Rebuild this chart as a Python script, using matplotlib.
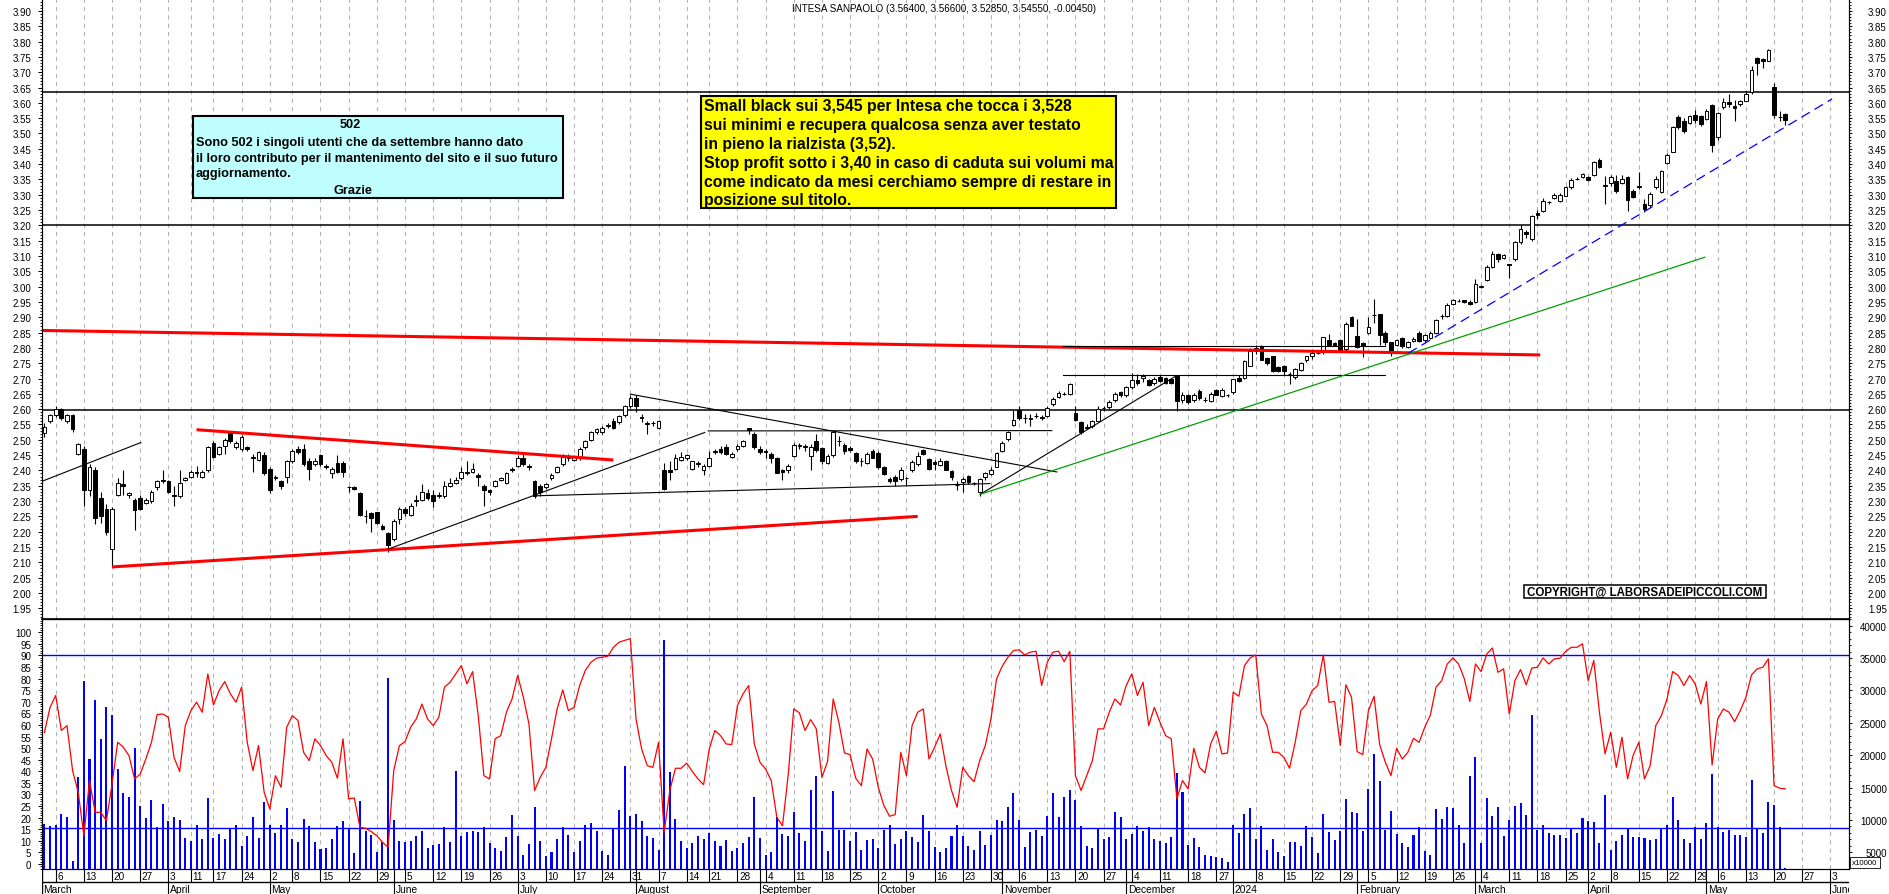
import numpy as np
import pandas as pd
import matplotlib
matplotlib.use("Agg")
import matplotlib.pyplot as plt
from matplotlib.patches import Rectangle
from matplotlib.ticker import MultipleLocator
from matplotlib import font_manager

plt.rcParams['font.family'] = ['Liberation Sans', 'DejaVu Sans']
plt.rcParams['lines.scale_dashes'] = False

# giorni di chiusura della Borsa (nessuna candela)
holidays = ['2023-04-07', '2023-04-10', '2023-05-01', '2023-08-15', '2023-12-25',
            '2023-12-26', '2024-01-01', '2024-03-29', '2024-04-01', '2024-05-01']

# candele giornaliere dal 2 marzo 2023 al 22 maggio 2024
opens = [2.522, 2.56, 2.58, 2.60, 2.56, 2.58, 2.455, 2.47, 2.335, 2.40,
         2.31, 2.275, 2.145, 2.32, 2.355, 2.32, 2.305, 2.31, 2.295, 2.30,
         2.345, 2.37, 2.365, 2.32, 2.315, 2.37, 2.38, 2.39, 2.38, 2.40,
         2.49, 2.455, 2.48, 2.525, 2.475, 2.47, 2.475, 2.445, 2.435, 2.45,
         2.405, 2.375, 2.365, 2.38, 2.43, 2.47, 2.47, 2.43, 2.42, 2.45,
         2.415, 2.39, 2.425, 2.425, 2.345, 2.345, 2.325, 2.25, 2.26, 2.265,
         2.22, 2.195, 2.175, 2.24, 2.275, 2.255, 2.30, 2.305, 2.325, 2.32,
         2.32, 2.315, 2.35, 2.36, 2.375, 2.395, 2.395, 2.385, 2.35, 2.335,
         2.35, 2.37, 2.36, 2.405, 2.415, 2.44, 2.415, 2.365, 2.35, 2.345,
         2.375, 2.395, 2.42, 2.445, 2.435, 2.44, 2.475, 2.50, 2.525, 2.524,
         2.545, 2.562, 2.557, 2.58, 2.61, 2.635, 2.575, 2.555, 2.555, 2.54,
         2.40, 2.40, 2.405, 2.435, 2.44, 2.405, 2.42, 2.40, 2.415, 2.46,
         2.47, 2.475, 2.443, 2.47, 2.48, 2.537, 2.52, 2.47, 2.465, 2.455,
         2.44, 2.40, 2.40, 2.448, 2.479, 2.475, 2.448, 2.497, 2.473, 2.424,
         2.45, 2.497, 2.483, 2.472, 2.457, 2.43, 2.424, 2.464, 2.458, 2.41,
         2.372, 2.38, 2.371, 2.374, 2.40, 2.42, 2.468, 2.437, 2.428, 2.418,
         2.43, 2.398, 2.352, 2.362, 2.382, 2.358, 2.33, 2.378, 2.388, 2.412,
         2.464, 2.502, 2.548, 2.597, 2.57, 2.57, 2.578, 2.575, 2.578, 2.616,
         2.64, 2.65, 2.649, 2.587, 2.559, 2.537, 2.544, 2.562, 2.603, 2.606,
         2.631, 2.655, 2.645, 2.671, 2.695, 2.702, 2.695, 2.685, 2.704, 2.701,
         2.698, 2.707, 2.63, 2.647, 2.63, 2.66, 2.631, 2.628, 2.663, 2.644,
         2.647, 2.655, 2.702, 2.702, 2.742, 2.79, 2.805, 2.767, 2.772, 2.738,
         2.742, 2.715, 2.704, 2.728, 2.76, 2.772, 2.783, 2.785, 2.826, 2.815,
         2.827, 2.796, 2.90, 2.84, 2.815, 2.85, 2.907, 2.91, 2.85, 2.818,
         2.81, 2.831, 2.802, 2.823, 2.85, 2.826, 2.831, 2.848, 2.903, 2.905,
         2.944, 2.954, 2.955, 2.951, 2.951, 3.0, 3.023, 3.065, 3.105, 3.095,
         3.073, 3.09, 3.147, 3.179, 3.155, 3.242, 3.248, 3.275, 3.29, 3.281,
         3.297, 3.324, 3.351, 3.357, 3.357, 3.364, 3.413, 3.33, 3.338, 3.346,
         3.338, 3.357, 3.313, 3.327, 3.27, 3.266, 3.324, 3.308, 3.402, 3.44,
         3.553, 3.542, 3.534, 3.56, 3.556, 3.547, 3.593, 3.487, 3.585, 3.604,
         3.591, 3.596, 3.607, 3.634, 3.746, 3.743, 3.738, 3.651, 3.553, 3.564]
highs = [2.555, 2.585, 2.61, 2.605, 2.585, 2.585, 2.49, 2.48, 2.42, 2.41,
         2.33, 2.29, 2.28, 2.375, 2.40, 2.33, 2.31, 2.32, 2.31, 2.335,
         2.37, 2.40, 2.37, 2.35, 2.40, 2.38, 2.40, 2.415, 2.40, 2.48,
         2.495, 2.48, 2.505, 2.53, 2.495, 2.515, 2.48, 2.455, 2.465, 2.46,
         2.41, 2.385, 2.37, 2.435, 2.47, 2.48, 2.485, 2.44, 2.44, 2.455,
         2.42, 2.41, 2.45, 2.43, 2.35, 2.35, 2.33, 2.27, 2.265, 2.265,
         2.225, 2.20, 2.24, 2.28, 2.28, 2.295, 2.32, 2.355, 2.34, 2.335,
         2.33, 2.365, 2.375, 2.38, 2.41, 2.43, 2.425, 2.39, 2.355, 2.34,
         2.37, 2.38, 2.395, 2.41, 2.45, 2.455, 2.42, 2.37, 2.355, 2.36,
         2.39, 2.415, 2.455, 2.455, 2.45, 2.475, 2.50, 2.53, 2.54, 2.545,
         2.555, 2.57, 2.58, 2.615, 2.645, 2.645, 2.585, 2.56, 2.56, 2.565,
         2.425, 2.43, 2.455, 2.46, 2.455, 2.43, 2.43, 2.42, 2.465, 2.47,
         2.48, 2.485, 2.46, 2.485, 2.50, 2.54, 2.525, 2.48, 2.47, 2.46,
         2.445, 2.405, 2.42, 2.49, 2.49, 2.485, 2.485, 2.52, 2.475, 2.455,
         2.53, 2.513, 2.49, 2.48, 2.46, 2.44, 2.46, 2.47, 2.465, 2.415,
         2.38, 2.385, 2.41, 2.38, 2.435, 2.46, 2.47, 2.44, 2.435, 2.44,
         2.435, 2.40, 2.365, 2.377, 2.385, 2.362, 2.375, 2.395, 2.41, 2.46,
         2.495, 2.53, 2.598, 2.61, 2.584, 2.584, 2.587, 2.58, 2.61, 2.64,
         2.66, 2.655, 2.685, 2.61, 2.56, 2.55, 2.565, 2.61, 2.61, 2.63,
         2.655, 2.66, 2.675, 2.718, 2.715, 2.715, 2.70, 2.705, 2.71, 2.705,
         2.70, 2.71, 2.655, 2.65, 2.652, 2.665, 2.64, 2.655, 2.665, 2.67,
         2.65, 2.70, 2.71, 2.76, 2.80, 2.81, 2.81, 2.77, 2.775, 2.74,
         2.745, 2.72, 2.735, 2.755, 2.775, 2.79, 2.79, 2.835, 2.845, 2.82,
         2.83, 2.885, 2.905, 2.895, 2.82, 2.90, 2.96, 2.91, 2.855, 2.82,
         2.83, 2.835, 2.822, 2.835, 2.855, 2.845, 2.855, 2.895, 2.91, 2.945,
         2.96, 2.96, 2.958, 2.955, 3.025, 3.005, 3.07, 3.115, 3.11, 3.108,
         3.075, 3.15, 3.20, 3.185, 3.233, 3.25, 3.29, 3.28, 3.305, 3.305,
         3.33, 3.355, 3.358, 3.372, 3.36, 3.41, 3.42, 3.362, 3.365, 3.365,
         3.365, 3.36, 3.32, 3.373, 3.285, 3.31, 3.36, 3.38, 3.435, 3.525,
         3.56, 3.55, 3.56, 3.578, 3.56, 3.58, 3.595, 3.57, 3.615, 3.63,
         3.61, 3.61, 3.64, 3.72, 3.75, 3.745, 3.775, 3.665, 3.575, 3.566]
lows = [2.508, 2.555, 2.575, 2.565, 2.555, 2.525, 2.45, 2.285, 2.315, 2.225,
        2.23, 2.19, 2.085, 2.315, 2.32, 2.31, 2.205, 2.27, 2.29, 2.295,
        2.335, 2.36, 2.325, 2.285, 2.31, 2.365, 2.375, 2.38, 2.375, 2.395,
        2.44, 2.45, 2.455, 2.49, 2.47, 2.465, 2.465, 2.395, 2.43, 2.385,
        2.325, 2.37, 2.34, 2.36, 2.425, 2.455, 2.415, 2.37, 2.415, 2.415,
        2.405, 2.375, 2.39, 2.38, 2.33, 2.335, 2.25, 2.23, 2.20, 2.225,
        2.205, 2.135, 2.17, 2.225, 2.25, 2.25, 2.285, 2.30, 2.305, 2.28,
        2.31, 2.31, 2.345, 2.355, 2.37, 2.385, 2.39, 2.35, 2.285, 2.32,
        2.345, 2.365, 2.355, 2.395, 2.41, 2.415, 2.40, 2.31, 2.315, 2.34,
        2.37, 2.39, 2.415, 2.43, 2.43, 2.435, 2.47, 2.495, 2.52, 2.52,
        2.54, 2.535, 2.55, 2.575, 2.605, 2.59, 2.557, 2.52, 2.545, 2.535,
        2.335, 2.37, 2.40, 2.43, 2.435, 2.40, 2.41, 2.385, 2.41, 2.455,
        2.455, 2.45, 2.44, 2.465, 2.475, 2.52, 2.47, 2.455, 2.44, 2.425,
        2.39, 2.37, 2.39, 2.445, 2.47, 2.465, 2.40, 2.46, 2.42, 2.42,
        2.445, 2.48, 2.455, 2.46, 2.425, 2.415, 2.42, 2.44, 2.405, 2.385,
        2.36, 2.35, 2.365, 2.35, 2.395, 2.415, 2.45, 2.40, 2.40, 2.415,
        2.40, 2.37, 2.337, 2.33, 2.355, 2.352, 2.317, 2.37, 2.385, 2.41,
        2.46, 2.495, 2.545, 2.565, 2.556, 2.546, 2.57, 2.565, 2.575, 2.61,
        2.635, 2.645, 2.647, 2.56, 2.52, 2.535, 2.54, 2.56, 2.595, 2.60,
        2.625, 2.64, 2.64, 2.665, 2.68, 2.69, 2.675, 2.68, 2.69, 2.683,
        2.683, 2.595, 2.62, 2.618, 2.625, 2.63, 2.625, 2.625, 2.645, 2.64,
        2.64, 2.65, 2.69, 2.70, 2.74, 2.78, 2.76, 2.745, 2.72, 2.72,
        2.71, 2.682, 2.70, 2.725, 2.755, 2.765, 2.78, 2.78, 2.805, 2.805,
        2.785, 2.79, 2.87, 2.80, 2.77, 2.845, 2.88, 2.81, 2.81, 2.775,
        2.805, 2.80, 2.80, 2.82, 2.82, 2.82, 2.83, 2.845, 2.895, 2.90,
        2.94, 2.95, 2.945, 2.94, 2.945, 2.995, 3.02, 3.06, 3.08, 3.09,
        3.027, 3.085, 3.14, 3.16, 3.15, 3.22, 3.245, 3.27, 3.285, 3.275,
        3.295, 3.32, 3.347, 3.355, 3.345, 3.36, 3.388, 3.27, 3.33, 3.305,
        3.335, 3.247, 3.29, 3.32, 3.245, 3.26, 3.32, 3.305, 3.40, 3.44,
        3.515, 3.50, 3.53, 3.535, 3.525, 3.545, 3.44, 3.48, 3.58, 3.585,
        3.54, 3.59, 3.605, 3.63, 3.69, 3.715, 3.735, 3.55, 3.54, 3.5285]
closes = [2.543, 2.58, 2.60, 2.57, 2.58, 2.535, 2.485, 2.335, 2.41, 2.245,
          2.25, 2.20, 2.275, 2.36, 2.35, 2.325, 2.27, 2.275, 2.305, 2.33,
          2.365, 2.365, 2.33, 2.315, 2.36, 2.375, 2.395, 2.395, 2.395, 2.475,
          2.445, 2.475, 2.50, 2.495, 2.49, 2.51, 2.47, 2.44, 2.46, 2.39,
          2.335, 2.38, 2.35, 2.43, 2.465, 2.46, 2.42, 2.405, 2.43, 2.42,
          2.41, 2.405, 2.395, 2.395, 2.345, 2.34, 2.255, 2.25, 2.245, 2.23,
          2.21, 2.155, 2.235, 2.275, 2.26, 2.285, 2.305, 2.33, 2.31, 2.30,
          2.315, 2.35, 2.36, 2.37, 2.395, 2.39, 2.405, 2.38, 2.335, 2.33,
          2.365, 2.375, 2.39, 2.40, 2.44, 2.42, 2.41, 2.315, 2.33, 2.355,
          2.385, 2.41, 2.445, 2.44, 2.445, 2.47, 2.495, 2.525, 2.535, 2.54,
          2.547, 2.54, 2.577, 2.61, 2.635, 2.61, 2.572, 2.55, 2.555, 2.562,
          2.34, 2.395, 2.44, 2.445, 2.45, 2.43, 2.425, 2.415, 2.44, 2.462,
          2.46, 2.455, 2.453, 2.48, 2.495, 2.533, 2.475, 2.46, 2.46, 2.44,
          2.39, 2.395, 2.415, 2.484, 2.483, 2.48, 2.478, 2.467, 2.43, 2.446,
          2.525, 2.495, 2.462, 2.467, 2.43, 2.43, 2.453, 2.442, 2.41, 2.388,
          2.366, 2.365, 2.402, 2.374, 2.428, 2.448, 2.453, 2.406, 2.42, 2.431,
          2.402, 2.377, 2.352, 2.373, 2.362, 2.358, 2.373, 2.391, 2.402, 2.458,
          2.491, 2.524, 2.565, 2.57, 2.57, 2.568, 2.578, 2.572, 2.605, 2.633,
          2.654, 2.65, 2.682, 2.565, 2.526, 2.543, 2.562, 2.602, 2.605, 2.624,
          2.65, 2.647, 2.671, 2.696, 2.685, 2.709, 2.679, 2.70, 2.693, 2.687,
          2.685, 2.628, 2.645, 2.622, 2.647, 2.638, 2.63, 2.65, 2.647, 2.663,
          2.647, 2.698, 2.693, 2.758, 2.79, 2.80, 2.762, 2.75, 2.725, 2.725,
          2.725, 2.714, 2.731, 2.752, 2.772, 2.783, 2.783, 2.834, 2.81, 2.81,
          2.79, 2.878, 2.872, 2.802, 2.81, 2.867, 2.907, 2.842, 2.818, 2.788,
          2.826, 2.805, 2.818, 2.83, 2.823, 2.842, 2.85, 2.892, 2.903, 2.941,
          2.958, 2.954, 2.95, 2.943, 3.008, 3.001, 3.065, 3.106, 3.09, 3.104,
          3.071, 3.145, 3.188, 3.171, 3.229, 3.234, 3.281, 3.277, 3.30, 3.299,
          3.324, 3.348, 3.352, 3.368, 3.349, 3.406, 3.39, 3.333, 3.357, 3.313,
          3.353, 3.284, 3.294, 3.325, 3.253, 3.302, 3.353, 3.378, 3.43, 3.52,
          3.52, 3.509, 3.556, 3.545, 3.531, 3.574, 3.462, 3.567, 3.602, 3.596,
          3.582, 3.607, 3.629, 3.708, 3.729, 3.735, 3.772, 3.56, 3.553, 3.5455]

# volumi (scala destra, x10000)
volumes = [9375, 9120, 9220, 10920, 10400, 3710, 16580, 31510, 19410, 28520,
           22500, 27390, 26210, 17870, 14160, 13490, 21110, 12210, 10300, 13080,
           8970, 12460, 9790, 10510, 10040, 7210, 6700, 9220, 7060, 13390,
           7160, 7830, 7060, 8710, 9220, 6030, 7570, 10510, 7210, 12720,
           9220, 7990, 9220, 11800, 7060, 6650, 10150, 9020, 6540, 5520,
           5620, 7060, 9120, 9790, 8760, 4900, 12880, 8350, 7730, 5100,
           6650, 31920, 10040, 6800, 6650, 6750, 7570, 8350, 5620, 6130,
           6290, 8860, 6540, 17610, 7570, 8090, 8350, 8090, 8860, 6440,
           5670, 5150, 7420, 10770, 7570, 4640, 6290, 11950, 6800, 4380,
           5000, 7060, 8860, 7680, 5000, 6800, 9220, 9480, 8240, 5150,
           4590, 8760, 11540, 18280, 10660, 10920, 9790, 7470, 7210, 5410,
           37840, 17350, 10150, 6700, 5620, 6390, 7470, 7060, 7930, 6700,
           5930, 6900, 5150, 5620, 6390, 7420, 13490, 7160, 4590, 5000,
           10510, 7830, 7570, 11280, 7990, 6700, 14620, 16840, 8240, 5260,
           14420, 8450, 8450, 6800, 8090, 5360, 6900, 7010, 5620, 8450,
           9220, 6290, 7060, 8350, 7320, 6650, 10770, 8350, 5880, 5000,
           5670, 7570, 9220, 7470, 6030, 5410, 8240, 6180, 7680, 10040,
           9790, 11950, 14160, 10040, 5880, 8090, 8450, 7470, 10560, 14160,
           10400, 13490, 14620, 13130, 9020, 5930, 5670, 8710, 7060, 7320,
           11180, 10400, 7060, 7830, 9020, 8240, 8860, 7060, 6800, 6440,
           7420, 17200, 14260, 6180, 7210, 5880, 4590, 4480, 4330, 4070,
           3450, 9220, 7990, 10920, 11800, 7060, 9020, 5360, 7060, 5000,
           4480, 6540, 6540, 5930, 9020, 7420, 4900, 10920, 8190, 6900,
           8350, 13240, 11280, 11070, 8350, 14780, 20180, 16060, 8500, 11330,
           7830, 6440, 5880, 7680, 8860, 5150, 4590, 11640, 10150, 12060,
           11850, 9220, 6390, 16840, 19670, 6440, 13340, 10560, 11950, 7470,
           9990, 12110, 12620, 10770, 26210, 8500, 9220, 7990, 7730, 7730,
           7210, 8710, 7990, 10250, 9790, 9640, 6440, 13910, 5410, 6700,
           7730, 8710, 7320, 7420, 7160, 6900, 7010, 8710, 9220, 13490,
           9990, 7060, 6440, 8970, 7060, 9480, 17100, 8970, 8190, 8450,
           7680, 7680, 7320, 16170, 8710, 7990, 12720, 12360, 8860, 2630]

# oscillatore (scala sinistra 0-100)
oscillator = [56.8, 67.6, 72.7, 57.6, 59.7, 40.3, 30.9, 12.2, 36.0, 22.3,
              22.3, 18.7, 34.5, 52.5, 50.4, 46.8, 36.7, 38.8, 45.3, 52.5,
              64.5, 64.7, 63.3, 46.0, 39.9, 59.7, 66.2, 69.8, 65.5, 82.0,
              68.6, 74.8, 78.7, 73.4, 69.8, 76.3, 52.5, 40.3, 51.1, 30.9,
              23.7, 38.1, 33.1, 59.0, 64.0, 61.9, 48.2, 44.6, 54.0, 51.1,
              46.8, 43.9, 37.0, 54.0, 28.1, 28.5, 15.8, 15.4, 14.0, 12.2,
              9.4, 7.2, 40.3, 51.0, 52.8, 59.0, 62.6, 69.0, 62.6, 59.7,
              63.3, 76.3, 78.4, 82.0, 85.6, 77.7, 83.0, 64.0, 38.1, 36.7,
              54.0, 55.4, 65.5, 71.2, 81.3, 72.0, 60.4, 31.7, 37.4, 41.7,
              54.0, 66.9, 75.1, 66.2, 67.6, 77.0, 83.5, 87.0, 88.8, 89.2,
              89.6, 93.5, 95.7, 96.5, 97.2, 62.6, 49.6, 42.4, 41.7, 52.5,
              13.7, 31.7, 41.3, 41.3, 43.5, 39.9, 36.7, 34.2, 49.6, 57.6,
              55.4, 51.8, 51.5, 68.3, 73.4, 77.0, 51.8, 43.9, 41.0, 36.0,
              20.1, 16.5, 38.1, 66.9, 65.2, 57.6, 62.3, 58.3, 37.4, 44.2,
              71.2, 61.2, 47.9, 47.2, 37.0, 33.8, 49.6, 45.3, 33.1, 25.2,
              20.6, 21.3, 48.2, 38.1, 59.7, 65.5, 66.9, 45.3, 50.4, 56.1,
              42.4, 31.7, 24.5, 41.7, 38.1, 35.5, 44.6, 51.1, 62.6, 79.9,
              85.3, 89.2, 92.1, 92.4, 90.2, 91.4, 91.8, 77.0, 87.0, 91.4,
              91.8, 87.3, 91.8, 38.1, 31.7, 38.1, 44.6, 58.3, 58.3, 65.5,
              71.2, 68.6, 77.0, 82.0, 72.7, 78.4, 59.7, 67.6, 61.2, 55.4,
              54.0, 28.1, 36.0, 32.4, 49.9, 41.7, 39.3, 51.8, 57.3, 47.5,
              47.9, 74.1, 72.4, 85.6, 88.9, 90.2, 64.7, 59.7, 48.2, 48.2,
              46.0, 41.3, 52.5, 66.2, 69.0, 74.8, 77.0, 90.2, 69.8, 70.1,
              51.1, 77.3, 71.9, 48.5, 47.2, 66.2, 72.4, 51.5, 43.9, 38.1,
              49.9, 45.3, 48.2, 54.2, 52.5, 59.0, 64.3, 76.3, 79.1, 86.3,
              88.9, 86.3, 80.1, 70.1, 86.3, 83.0, 90.6, 93.2, 82.7, 84.2,
              64.7, 79.1, 83.9, 77.3, 84.5, 84.9, 88.9, 86.3, 88.5, 88.8,
              91.7, 93.5, 93.5, 95.0, 79.1, 87.8, 65.5, 47.5, 56.8, 41.7,
              54.7, 36.7, 47.0, 52.5, 36.7, 42.4, 59.7, 64.0, 71.2, 83.0,
              81.3, 77.0, 81.3, 77.7, 69.0, 78.7, 42.7, 62.6, 66.9, 65.5,
              61.4, 66.2, 71.9, 81.6, 84.2, 84.9, 88.5, 33.8, 32.7, 32.4]

# livelli orizzontali e trendline (indice candela, prezzo)
levels = [3.635, 3.20, 2.597]
osc_levels = [90, 15.4]
red_lines = [([-0.5, 265.5], [2.857, 2.777]),
             ([12, 155], [2.085, 2.25]),
             ([27, 101], [2.533, 2.434])]
black_lines = [([-0.5, 17.1], [2.364, 2.491]),
               ([61, 117.2], [2.143, 2.524]),
               ([86.8, 167.8], [2.317, 2.357]),
               ([117.8, 178.8], [2.529, 2.53]),
               ([104, 179.7], [2.649, 2.395]),
               ([166.1, 200.9], [2.322, 2.709]),
               ([180.8, 237.9], [2.713, 2.713]),
               ([180.8, 237.9], [2.805, 2.805])]
green_line = ([166.1, 294.7], [2.322, 3.096])
blue_line = ([242.1, 317.3], [2.783, 3.613])

title = "INTESA SANPAOLO (3.56400, 3.56600, 3.52850, 3.54550, -0.00450)"
box1_lines = ["Sono 502 i singoli utenti che da settembre hanno dato",
              "il loro contributo per il mantenimento del sito e il suo futuro",
              "aggiornamento."]
box2_lines = ["Small black sui 3,545 per Intesa che tocca i 3,528",
              "sui minimi e recupera qualcosa senza aver testato",
              "in pieno la rialzista (3,52).",
              "Stop profit sotto i 3,40 in caso di caduta sui volumi ma",
              "come indicato da mesi cerchiamo sempre di restare in",
              "posizione sul titolo."]
month_names = ['January', 'February', 'March', 'April', 'May', 'June', 'July',
               'August', 'September', 'October', 'November', 'December']

# ---------------------------------------------------------------------------
dates = pd.bdate_range('2023-03-02', '2024-06-07')
dates = dates[~dates.isin(pd.to_datetime(holidays))]
n = len(closes)
x = np.arange(n)
O, Hh, Lw, C = map(np.array, (opens, highs, lows, closes))

iso = dates.isocalendar()
wk = iso['year'].to_numpy().astype(int) * 100 + iso['week'].to_numpy().astype(int)
week_starts = [i for i in range(1, len(dates)) if wk[i] != wk[i - 1]]
month_starts = [i for i in range(1, len(dates)) if dates[i].month != dates[i - 1].month]

names = {f.name for f in font_manager.fontManager.ttflist}
narrow = 'Liberation Sans Narrow' if 'Liberation Sans Narrow' in names else 'Liberation Sans'

W, H = 1890, 895
XL, XR = 41.7, 1849.0
XMIN, XMAX = -0.485, 320.3


def fx(p):
    return p / W


def fy(p):
    return 1 - p / H


fig = plt.figure(figsize=(W / 100, H / 100), dpi=100)
aw = (XR - XL) / W
ax1 = fig.add_axes([fx(XL), fy(620), aw, 620 / H])
ax2 = fig.add_axes([fx(XL), fy(870), aw, 250 / H])
ax3 = fig.add_axes([fx(XL), 0, aw, 25 / H])

grid_kw = dict(color='#b4b4b4', lw=0.8, ls=(0, (3, 3)), zorder=0.5)

# ---------------- pannello prezzi ----------------
ax1.set_xlim(XMIN, XMAX)
ax1.set_ylim(1.915, 3.939)
for i in week_starts:
    ax1.axvline(i, **grid_kw)
for lv in levels:
    ax1.axhline(lv, color='black', lw=1.1, zorder=1)

up = C >= O
ax1.vlines(x, Lw, Hh, color='black', lw=0.8, zorder=3)
ax1.bar(x, np.maximum(np.abs(C - O), 0.0006), bottom=np.minimum(O, C), width=0.66,
        color=np.where(up, 'white', 'black'), edgecolor='black', linewidth=0.7, zorder=4)

for xs, ys in red_lines:
    ax1.plot(xs, ys, color='#ff0000', lw=2.2, solid_capstyle='butt', zorder=5)
for xs, ys in black_lines:
    ax1.plot(xs, ys, color='black', lw=0.8, zorder=5)
ax1.plot(*green_line, color='#00a000', lw=0.9, zorder=5)
ax1.plot(*blue_line, color='#0000ff', lw=0.9, dashes=(7, 4), zorder=5)

pt = np.round(np.arange(1.95, 3.901, 0.05), 2)
ptl = ['%.2f' % v for v in pt]
ax1.set_xticks([])
ax1.spines['top'].set_visible(False)
ax1.set_yticks(pt)
ax1.set_yticklabels(ptl)
ax1.yaxis.set_minor_locator(MultipleLocator(0.01))
ax1.tick_params(axis='y', which='major', length=2.6, width=0.7, pad=5, labelsize=7)
ax1.tick_params(axis='y', which='minor', length=1.6, width=0.6)

ax1r = ax1.twinx()
ax1r.set_ylim(1.915, 3.939)
ax1r.spines['top'].set_visible(False)
ax1r.set_yticks(pt)
ax1r.set_yticklabels(ptl, ha='right')
ax1r.yaxis.set_minor_locator(MultipleLocator(0.01))
ax1r.tick_params(axis='y', which='major', length=2.2, width=0.7, pad=25, labelsize=7)
ax1r.tick_params(axis='y', which='minor', length=1.4, width=0.6)

# ---------------- pannello volumi / oscillatore ----------------
ax2r = ax2.twinx()
ax2.set_zorder(ax2r.get_zorder() + 1)
ax2.patch.set_visible(False)
ax2.set_xlim(XMIN, XMAX)
ax2.set_ylim(-2.16, 105.7)
ax2r.set_ylim(2418, 41035)
for i in week_starts:
    ax2r.axvline(i, **grid_kw)
ax2r.bar(x, volumes, width=0.36, color='#0000ff', zorder=2)
ax2.plot(x, oscillator, color='#ff0000', lw=0.9, zorder=3)
for lv in osc_levels:
    ax2.axhline(lv, color='#0000ff', lw=1.0, zorder=2)

ax2.set_xticks([])
ax2.spines['top'].set_linewidth(1.2)
ax2.set_yticks(np.arange(0, 101, 5))
ax2.yaxis.set_minor_locator(MultipleLocator(1))
ax2.tick_params(axis='y', which='major', length=2.6, width=0.7, pad=5, labelsize=7)
ax2.tick_params(axis='y', which='minor', length=1.6, width=0.6)
vt = np.arange(5000, 40001, 5000)
ax2r.set_yticks(vt)
ax2r.set_yticklabels([str(v) for v in vt], ha='right')
ax2r.yaxis.set_minor_locator(MultipleLocator(1000))
ax2r.tick_params(axis='y', which='major', length=2.2, width=0.7, pad=25, labelsize=7)
ax2r.tick_params(axis='y', which='minor', length=1.4, width=0.6)

# ---------------- asse date ----------------
ax3.set_xlim(XMIN, XMAX)
ax3.set_ylim(0, 25)
ax3.axis('off')
ax3.axhline(11.7, color='black', lw=1.0)
ax3.vlines([XMIN + 0.1], 0, 25, color='black', lw=1.0)
ax3.vlines(sorted(set(week_starts) | set(month_starts)), 11.7, 25, color='black', lw=0.8)
ax3.vlines(month_starts, 0, 11.7, color='black', lw=0.8)
for i in week_starts:
    d = dates[i]
    if d.month == 1 and i in month_starts:
        continue
    ax3.text(i + 0.3, 15.0, str(d.day), fontsize=7.2, ha='left', va='baseline', clip_on=True)
ax3.text(XMIN + 0.2, 2.0, 'March', fontsize=7.4, ha='left', va='baseline', clip_on=True)
for i in month_starts:
    d = dates[i]
    lab = str(d.year) if d.month == 1 else month_names[d.month - 1]
    ax3.text(i + 0.3, 2.0, lab, fontsize=7.4, ha='left', va='baseline', clip_on=True)

# ---------------- testi e riquadri ----------------
renderer = fig.canvas.get_renderer()


def fit(texts, ref, target):
    k = target / ref.get_window_extent(renderer).width
    for t in texts:
        t.set_fontsize(t.get_fontsize() * k)


def box(x0, y0, x1, y1, fc, lw=1.5):
    fig.add_artist(Rectangle((fx(x0), fy(y1)), (x1 - x0) / W, (y1 - y0) / H,
                             transform=fig.transFigure, facecolor=fc,
                             edgecolor='black', lw=lw, zorder=10))


def txt(xp, yp, s, ha='left', **kw):
    return fig.text(fx(xp), fy(yp), s, ha=ha, va='center', zorder=11, **kw)


t = txt(944.5, 8.5, title, ha='center', family=[narrow, 'DejaVu Sans'], fontsize=7)
fit([t], t, 305)

box(193, 117, 563, 199, '#c0ffff')
b1 = [txt(350.4, 125.5, '502', ha='center', family=[narrow, 'DejaVu Sans'], fontsize=9, fontweight='bold')]
for s, yp in zip(box1_lines, [142.7, 158.7, 174.3]):
    b1.append(txt(196.0, yp, s, family=[narrow, 'DejaVu Sans'], fontsize=9, fontweight='bold'))
b1.append(txt(352.7, 191.0, 'Grazie', ha='center', family=[narrow, 'DejaVu Sans'], fontsize=9, fontweight='bold'))
fit(b1, b1[2], 364)

box(701, 97, 1116, 209, '#ffff00')
b2 = [txt(704.3, yp, s, fontsize=10, fontweight='bold')
      for s, yp in zip(box2_lines, [106.7, 125.7, 144.3, 163.3, 182.0, 200.7])]
fit(b2, b2[3], 406)

box(1524, 586, 1766, 599, 'white', lw=1.1)
c = txt(1645, 592.7, 'COPYRIGHT@ LABORSADEIPICCOLI.COM', ha='center', fontsize=8, fontweight='bold')
fit([c], c, 236)

box(1850, 858, 1880, 869, 'white', lw=0.6)
xk = txt(1865, 863.5, 'x10000', ha='center', fontsize=5)
fit([xk], xk, 26)

fig.savefig('out.png', dpi=100, facecolor='white')
